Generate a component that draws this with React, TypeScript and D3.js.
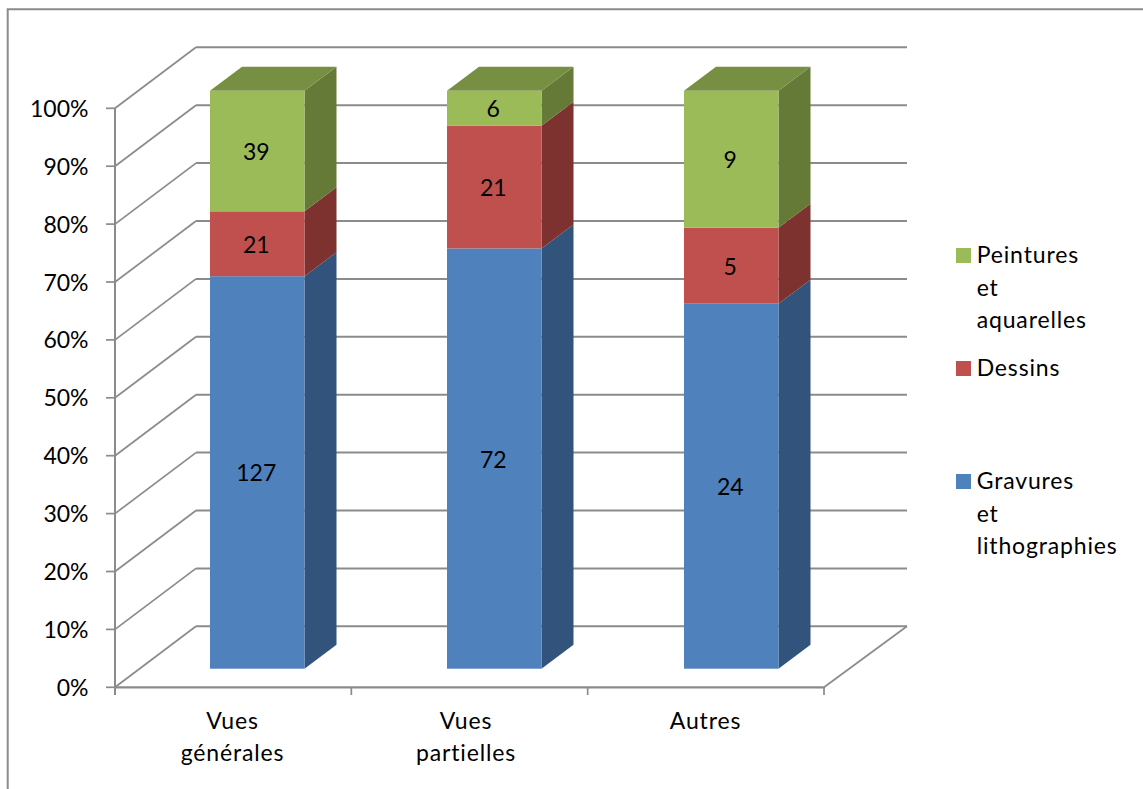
import React from "react";
import * as d3 from "d3";

const categories = [["Vues", "générales"], ["Vues", "partielles"], ["Autres"]];
const gravures = [127, 72, 24];
const dessins = [21, 21, 5];
const peintures = [39, 6, 9];
const ticks = [0, 10, 20, 30, 40, 50, 60, 70, 80, 90, 100];
const seriesKeys = ["gravures", "dessins", "peintures"];
const colors = { gravures: "#4f81bd", dessins: "#c0504d", peintures: "#9bbb59" };
const sideColors = { gravures: "#32547c", dessins: "#7d3230", peintures: "#657a37" };
const topColors = { gravures: "#3d6596", dessins: "#984040", peintures: "#778f42" };
const legendRows = [
  { key: "peintures", lines: ["Peintures", "et", "aquarelles"] },
  { key: "dessins", lines: ["Dessins"] },
  { key: "gravures", lines: ["Gravures", "et", "lithographies"] },
];

const rows = categories.map((_, i) => ({
  i,
  gravures: gravures[i],
  dessins: dessins[i],
  peintures: peintures[i],
}));
const stacked = d3.stack<any>().keys(seriesKeys).offset(d3.stackOffsetExpand)(rows);

const FONT = "Lato, 'Open Sans', sans-serif";
const GRID = "#8b8b8b";
const LABEL_X = [232.5, 466, 705.5];
const LEGEND_Y = [255.5, 368.5, 481.5];

export default function App() {
  const yAxis = d3.scaleLinear().domain([0, 100]).range([687.3, 108.3]);
  const xAxis = d3.scaleLinear().domain([0, 3]).range([115, 824]);
  const backDx = 81;
  const backRight = 907;
  const backDy = -61;
  const yBar = d3.scaleLinear().domain([0, 1]).range([668.7, 90.8]);
  const barX = d3.scaleLinear().domain([0, 2]).range([210, 684]);
  const barW = 94.5;
  const barDx = 32;
  const barDy = -24;

  return (
    <svg
      width={1143}
      height={789}
      viewBox="0 0 1143 789"
      style={{ position: "fixed", left: 0, top: 0, background: "#fff" }}
      fontFamily={FONT}
      fill="#000"
    >
      <path d="M7.7 789V9.3H1143" fill="none" stroke={GRID} strokeWidth={2} />

      {ticks.map((t) => {
        const y = yAxis(t);
        return (
          <g key={t}>
            <path
              d={`M${xAxis(0)} ${y}L${xAxis(0) + backDx} ${y + backDy}`}
              fill="none"
              stroke={GRID}
              strokeWidth={1.7}
            />
            <line
              x1={xAxis(0) + backDx}
              x2={backRight}
              y1={y + backDy}
              y2={y + backDy}
              stroke={GRID}
              strokeWidth={2}
            />
            <line x1={106} x2={115} y1={y} y2={y} stroke={GRID} strokeWidth={1.7} />
            <text x={88.5} y={y + 8.5} textAnchor="end" fontSize={23}>
              {t}%
            </text>
          </g>
        );
      })}
      <path
        d={`M${xAxis(3)} ${yAxis(0)}L${backRight} ${yAxis(0) + backDy}`}
        fill="none"
        stroke={GRID}
        strokeWidth={1.7}
      />
      <line x1={115} x2={115} y1={yAxis(100)} y2={695} stroke={GRID} strokeWidth={2} />
      <line x1={115} x2={825} y1={yAxis(0)} y2={yAxis(0)} stroke={GRID} strokeWidth={2.2} />
      {[1, 2, 3].map((i) => (
        <line key={i} x1={xAxis(i)} x2={xAxis(i)} y1={687} y2={695} stroke={GRID} strokeWidth={1.7} />
      ))}

      {stacked.map((layer) =>
        layer.map((d, i) => {
          const key = layer.key as keyof typeof colors;
          const x = barX(i);
          const yTop = yBar(d[1]);
          const yBot = yBar(d[0]);
          return (
            <g key={`${key}-${i}`}>
              <path
                d={`M${x + barW} ${yBot}L${x + barW + barDx} ${yBot + barDy}V${yTop + barDy}L${x + barW} ${yTop}Z`}
                fill={sideColors[key]}
              />
              {d[1] > 0.999 && (
                <path
                  d={`M${x} ${yTop}L${x + barDx} ${yTop + barDy}H${x + barW + barDx}L${x + barW} ${yTop}Z`}
                  fill={topColors[key]}
                />
              )}
              <rect x={x} y={yTop} width={barW} height={yBot - yTop} fill={colors[key]} />
            </g>
          );
        })
      )}
      {stacked.map((layer) =>
        layer.map((d, i) => (
          <text
            key={`${layer.key}-${i}-l`}
            x={barX(i) + barW / 2 - 1}
            y={(yBar(d[0]) + yBar(d[1])) / 2 + 9}
            textAnchor="middle"
            fontSize={23}
          >
            {(d.data as any)[layer.key]}
          </text>
        ))
      )}

      {categories.map((lines, i) => (
        <text key={i} textAnchor="middle" fontSize={23} letterSpacing={0.85}>
          {lines.map((l, j) => (
            <tspan key={j} x={LABEL_X[i]} y={729.3 + j * 31.5}>
              {l}
            </tspan>
          ))}
        </text>
      ))}

      {legendRows.map((r, k) => (
        <g key={r.key}>
          <rect
            x={956}
            y={LEGEND_Y[k] - 7.5}
            width={15}
            height={15}
            fill={colors[r.key as keyof typeof colors]}
          />
          {r.lines.map((l, j) => (
            <text key={j} x={976.7} y={LEGEND_Y[k] + 7.5 + j * 32.5} fontSize={23} letterSpacing={0.85}>
              {l}
            </text>
          ))}
        </g>
      ))}
    </svg>
  );
}
